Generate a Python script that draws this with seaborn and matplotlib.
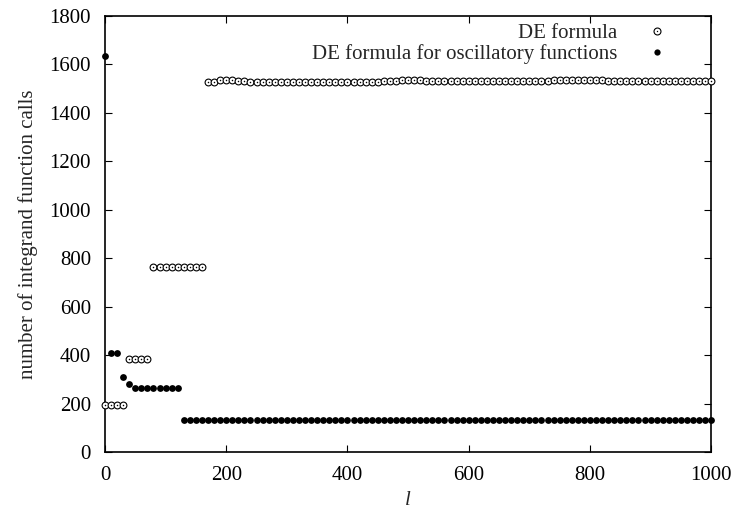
import matplotlib
matplotlib.use("Agg")
import matplotlib.pyplot as plt
from matplotlib.legend_handler import HandlerTuple
import numpy as np
import pandas as pd
import seaborn as sns

# Plain DE formula: integration order l and number of integrand calls
de_l = [0, 10, 20, 30,
        40, 50, 60, 70,
        80, 90, 100, 110, 120, 130, 140, 150, 160,
        170, 180, 190, 200, 210, 220, 230, 240, 250, 260,
        270, 280, 290, 300, 310, 320, 330, 340, 350, 360,
        370, 380, 390, 400, 410, 420, 430, 440, 450, 460,
        470, 480, 490, 500, 510, 520, 530, 540, 550, 560,
        570, 580, 590, 600, 610, 620, 630, 640, 650, 660,
        670, 680, 690, 700, 710, 720, 730, 740, 750, 760,
        770, 780, 790, 800, 810, 820, 830, 840, 850, 860,
        870, 880, 890, 900, 910, 920, 930, 940, 950, 960,
        970, 980, 990, 1000]
de_calls = [193, 193, 193, 193,
            383, 383, 383, 383,
            765, 765, 765, 765, 765, 765, 765, 765, 765,
            1529, 1529, 1535, 1535, 1535, 1533, 1531, 1529, 1529, 1529,
            1529, 1529, 1529, 1529, 1529, 1529, 1529, 1529, 1529, 1529,
            1529, 1529, 1529, 1529, 1529, 1529, 1529, 1529, 1529, 1531,
            1531, 1533, 1535, 1535, 1535, 1535, 1533, 1533, 1531, 1531,
            1531, 1531, 1531, 1531, 1531, 1531, 1531, 1531, 1531, 1531,
            1531, 1531, 1531, 1531, 1531, 1533, 1533, 1535, 1537, 1537,
            1537, 1537, 1537, 1537, 1535, 1535, 1533, 1533, 1533, 1533,
            1533, 1533, 1533, 1533, 1533, 1533, 1533, 1533, 1533, 1533,
            1533, 1533, 1533, 1533]

# DE formula for oscillatory functions
osc_l = [0, 10, 20, 30, 40, 50, 60, 70, 80, 90,
         100, 110, 120, 130, 140, 150, 160, 170, 180, 190,
         200, 210, 220, 230, 240, 250, 260, 270, 280, 290,
         300, 310, 320, 330, 340, 350, 360, 370, 380, 390,
         400, 410, 420, 430, 440, 450, 460, 470, 480, 490,
         500, 510, 520, 530, 540, 550, 560, 570, 580, 590,
         600, 610, 620, 630, 640, 650, 660, 670, 680, 690,
         700, 710, 720, 730, 740, 750, 760, 770, 780, 790,
         800, 810, 820, 830, 840, 850, 860, 870, 880, 890,
         900, 910, 920, 930, 940, 950, 960, 970, 980, 990,
         1000]
osc_calls = [1634, 410, 410, 310, 282, 265, 265, 265, 265, 265,
             265, 265, 265, 134, 134, 134, 134, 134, 134, 134,
             134, 134, 134, 134, 134, 134, 134, 134, 134, 134,
             134, 134, 134, 134, 134, 134, 134, 134, 134, 134,
             134, 134, 134, 134, 134, 134, 134, 134, 134, 134,
             134, 134, 134, 134, 134, 134, 134, 134, 134, 134,
             134, 134, 134, 134, 134, 134, 134, 134, 134, 134,
             134, 134, 134, 134, 134, 134, 134, 134, 134, 134,
             134, 134, 134, 134, 134, 134, 134, 134, 134, 134,
             134, 134, 134, 134, 134, 134, 134, 134, 134, 134,
             134]

series_labels = ["DE formula", "DE formula for oscillatory functions"]
x_ticks = [0, 200, 400, 600, 800, 1000]
y_ticks = [0, 200, 400, 600, 800, 1000, 1200, 1400, 1600, 1800]

sns.set_theme(style="ticks")
plt.rcParams["font.family"] = ["Liberation Serif", "DejaVu Serif"]

de_df = pd.DataFrame({"l": de_l, "calls": de_calls})
osc_df = pd.DataFrame({"l": osc_l, "calls": osc_calls})

fig = plt.figure(figsize=(7.34, 5.12), dpi=100)
ax = fig.add_axes([0.143, 0.117, 0.826, 0.852])

# open circles with a centre dot
sns.scatterplot(data=de_df, x="l", y="calls", ax=ax, marker="o", s=24,
                facecolor="white", edgecolor="black", linewidth=0.8,
                legend=False, zorder=3, clip_on=False)
sns.scatterplot(data=de_df, x="l", y="calls", ax=ax, marker="o", s=1.2,
                color="black", linewidth=0, legend=False, zorder=4,
                clip_on=False)
# filled circles
sns.scatterplot(data=osc_df, x="l", y="calls", ax=ax, marker="o", s=24,
                color="black", linewidth=0, legend=False, zorder=3,
                clip_on=False)

ax.set_xlim(0, 1000)
ax.set_ylim(0, 1800)
ax.set_xticks(x_ticks)
ax.set_yticks(y_ticks)
ax.tick_params(direction="in", length=5, width=0.8, top=True, right=True,
               labelsize=15, pad=10, colors="black")
for sp in ax.spines.values():
    sp.set_visible(True)
    sp.set_linewidth(1.2)
    sp.set_color("black")

ax.set_xlabel("l", fontsize=15, style="italic", labelpad=4)
ax.set_ylabel("number of integrand function calls", fontsize=15, labelpad=8)

h_open = plt.Line2D([], [], ls="none", marker="o", ms=5, mfc="white",
                    mec="black", mew=0.8)
h_dot = plt.Line2D([], [], ls="none", marker="o", ms=1.0, mfc="black",
                   mec="black", mew=0)
h_fill = plt.Line2D([], [], ls="none", marker="o", ms=4.5, mfc="black",
                    mec="black", mew=0)
leg = ax.legend([(h_open, h_dot), h_fill], series_labels,
                handler_map={tuple: HandlerTuple(ndivide=1, pad=0)},
                loc="upper right", bbox_to_anchor=(0.955, 1.021),
                frameon=False, markerfirst=False, fontsize=15,
                handlelength=1.0, handletextpad=1.4, labelspacing=0.05,
                borderpad=0.3)
for t in leg.get_texts():
    t.set_ha("right")

fig.savefig("out.png", dpi=100)
